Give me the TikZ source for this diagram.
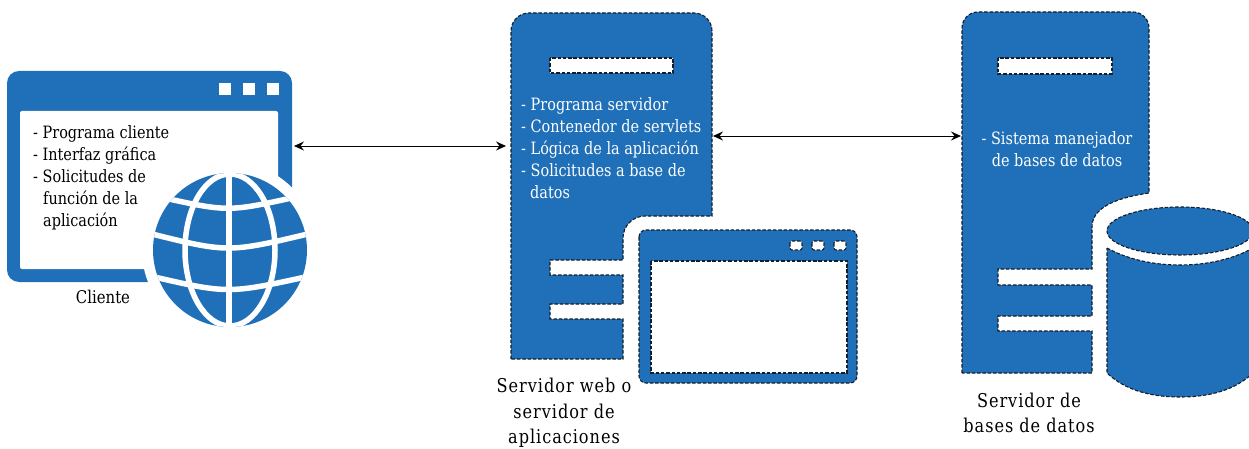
\documentclass[tikz,border=0pt]{standalone}
\usepackage{fontspec}
\setmainfont[FakeStretch=0.85]{DejaVu Serif}
\usepackage{tikz}
\usetikzlibrary{arrows.meta,positioning}
\definecolor{azul}{RGB}{31,112,184}
\definecolor{borde}{RGB}{20,30,40}

\begin{document}
\begin{tikzpicture}[x=1pt,y=-1pt]

\tikzset{
    solid fill/.style={fill=azul},
    outline/.style={fill=azul, draw=borde, line width=1.1pt, dash pattern=on 3.5pt off 1.8pt},
    slot/.style={fill=white, draw=borde, line width=1.1pt, dash pattern=on 3.5pt off 1.8pt},
    info/.style={inner sep=0pt, align=left, anchor=north west, font=\fontsize{17}{22}\selectfont},
    caption/.style={inner sep=0pt, align=center, font=\fontsize{19}{25.5}\selectfont\addfontfeature{LetterSpace=5}},
    link/.style={{Stealth[length=10pt,width=9pt,inset=3.5pt]}-{Stealth[length=10pt,width=9pt,inset=3.5pt]}, line width=0.9pt, black}
}

\clip (0,0) rectangle (1249,449);
\fill[white] (0,0) rectangle (1249,449);

\fill[solid fill, rounded corners=12] (7,71) rectangle (292,282);
\fill[white, rounded corners=2] (20,111) rectangle (278,269);
\foreach \x in {225,249,273} \fill[white] (\x-6,83) rectangle (\x+6,95);
\fill[white] (230,250) circle (88);
\begin{scope}
    \clip (230,250) circle (77);
    \fill[azul] (150,170) rectangle (310,330);
    \draw[white, line width=5.5pt] (229,165) -- (229,335);
    \draw[white, line width=5.5pt] (230,250) ellipse (45 and 76);
    \draw[white, line width=5.5pt] (160,197) .. controls (228,212) .. (296,197);
    \draw[white, line width=5.5pt] (148,233) .. controls (228,253) .. (312,233);
    \draw[white, line width=5.5pt] (150,276) .. controls (228,294) .. (310,276);
\end{scope}
\node[info] (clientetexto) at (33,125) {- Programa cliente\\- Interfaz gráfica\\- Solicitudes de\\\hspace*{10pt}función de la\\\hspace*{10pt}aplicación};
\node[inner sep=0pt, font=\fontsize{17.5}{22}\selectfont] (cliente) at (103,297) {Cliente};

\draw[outline] (511,359) [rounded corners=18] -- (511,13) -- (712,13) [sharp corners] -- (712,216)
    [rounded corners=22] -- (623,216) [sharp corners] -- (623,260) -- (550,260) -- (550,275) -- (623,275)
    -- (623,304) -- (550,304) -- (550,319) -- (623,319) -- (623,359) -- cycle;
\draw[slot] (550,58) rectangle (673,73);
\fill[white] (622,261) rectangle (625,274);
\fill[white] (622,305) rectangle (625,318);
\draw[outline, rounded corners=7] (639,230) rectangle (857,383);
\draw[slot] (651,261) rectangle (847,373);
\foreach \x in {796,818,840} \draw[slot, rounded corners=2] (\x-6,241) rectangle (\x+6,250);
\node[info, text=white] (webtexto) at (521,97) {- Programa servidor\\- Contenedor de servlets\\- Lógica de la aplicación\\- Solicitudes a base de\\\hspace*{9pt}datos};
\node[caption] (web) at (564,413) {Servidor web o\\servidor de\\aplicaciones};

\draw[outline] (962,373) [rounded corners=16] -- (962,12) -- (1149,12) [sharp corners] -- (1149,193)
    .. controls (1115,198) and (1092,208) .. (1092,227) -- (1092,269) -- (998,269) -- (998,285) -- (1092,285)
    -- (1092,316) -- (998,316) -- (998,331) -- (1092,331) -- (1092,373) -- cycle;
\draw[slot] (998,58) rectangle (1112,74);
\fill[white] (1091,270) rectangle (1094,284);
\fill[white] (1091,317) rectangle (1094,330);
\draw[outline] (1180,231) ellipse (73 and 24);
\draw[outline] (1107,248) .. controls (1125,258) and (1150,265) .. (1180,265)
    .. controls (1210,265) and (1235,258) .. (1253,248) -- (1253,373)
    .. controls (1235,390) and (1210,397) .. (1180,397)
    .. controls (1150,397) and (1125,390) .. (1107,373) -- cycle;
\node[inner sep=0pt, align=center, text=white, font=\fontsize{17}{22}\selectfont] (bdtexto) at (1057,149) {- Sistema manejador\\de bases de datos};
\node[caption] (bd) at (1029,413) {Servidor de\\bases de datos};

\coordinate (clientepuerto) at (294,146);
\coordinate (webizq) at (506,146);
\coordinate (webder) at (713,136);
\coordinate (bdizq) at (961,136);
\draw[link] (clientepuerto) -- (webizq);
\draw[link] (webder) -- (bdizq);

\end{tikzpicture}
\end{document}
